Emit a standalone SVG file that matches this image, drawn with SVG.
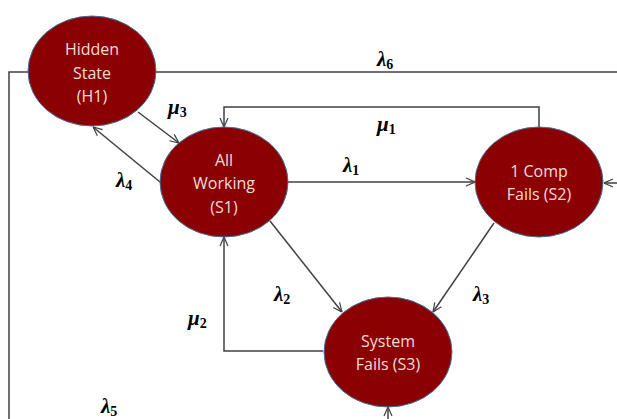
<svg xmlns="http://www.w3.org/2000/svg" width="617" height="419" viewBox="0 0 617 419">
<style>
.node ellipse{fill:#8B0000;stroke:#41719C;stroke-width:1}
.node text{fill:#F2DCDB;font-family:"Open Sans","Liberation Sans",sans-serif;font-size:16px;text-anchor:middle}
.conn path{fill:none;stroke:#404040;stroke-width:1.5}
.lbl{font-family:"Liberation Serif","DejaVu Serif",serif;font-weight:bold;font-style:italic;font-size:21px;fill:#000}
.lbl tspan{font-size:14px;font-style:normal}
</style>
<defs>
<marker id="arr" viewBox="0 0 10 10" refX="10" refY="5" markerWidth="10" markerHeight="10" markerUnits="userSpaceOnUse" orient="auto">
<path d="M1,1 L10,5 L1,9" fill="none" stroke="#404040" stroke-width="1.2"/>
</marker>
</defs>
<g id="connectors" class="conn">
<path d="M28,72 H9 V419"/>
<path d="M156,72 H617"/>
<path d="M617,183 H604" marker-end="url(#arr)"/>
<path d="M388,419 V407" marker-end="url(#arr)"/>
<path d="M539,127 V107 H224 V127" marker-end="url(#arr)"/>
<path d="M287,182 H475" marker-end="url(#arr)"/>
<path d="M138,112 L179,143" marker-end="url(#arr)"/>
<path d="M160,182 L93,127" marker-end="url(#arr)"/>
<path d="M270,221 L342,312" marker-end="url(#arr)"/>
<path d="M494,223 L433,312" marker-end="url(#arr)"/>
<path d="M323,351 H224 V237" marker-end="url(#arr)"/>
</g>
<g id="labels">
<text class="lbl" x="377" y="66">λ<tspan dy="3">6</tspan></text>
<text class="lbl" x="377" y="131">μ<tspan dy="3">1</tspan></text>
<text class="lbl" x="343" y="172">λ<tspan dy="3">1</tspan></text>
<text class="lbl" x="168" y="114">μ<tspan dy="3">3</tspan></text>
<text class="lbl" x="116" y="187">λ<tspan dy="3">4</tspan></text>
<text class="lbl" x="274" y="301">λ<tspan dy="3">2</tspan></text>
<text class="lbl" x="188" y="325">μ<tspan dy="3">2</tspan></text>
<text class="lbl" x="473" y="301">λ<tspan dy="3">3</tspan></text>
<text class="lbl" x="101" y="413">λ<tspan dy="3">5</tspan></text>
</g>
<g id="H1" class="node">
<ellipse cx="92" cy="71" rx="64" ry="55"/>
<text x="92" y="55">Hidden</text>
<text x="92" y="79">State</text>
<text x="92" y="102">(H1)</text>
</g>
<g id="S1" class="node">
<ellipse cx="224" cy="182" rx="64" ry="55"/>
<text x="224" y="166">All</text>
<text x="224" y="189">Working</text>
<text x="224" y="213">(S1)</text>
</g>
<g id="S2" class="node">
<ellipse cx="539" cy="182" rx="64" ry="55"/>
<text x="539" y="177">1 Comp</text>
<text x="539" y="200">Fails (S2)</text>
</g>
<g id="S3" class="node">
<ellipse cx="388" cy="352" rx="64" ry="55"/>
<text x="388" y="347">System</text>
<text x="388" y="370">Fails (S3)</text>
</g>
</svg>
